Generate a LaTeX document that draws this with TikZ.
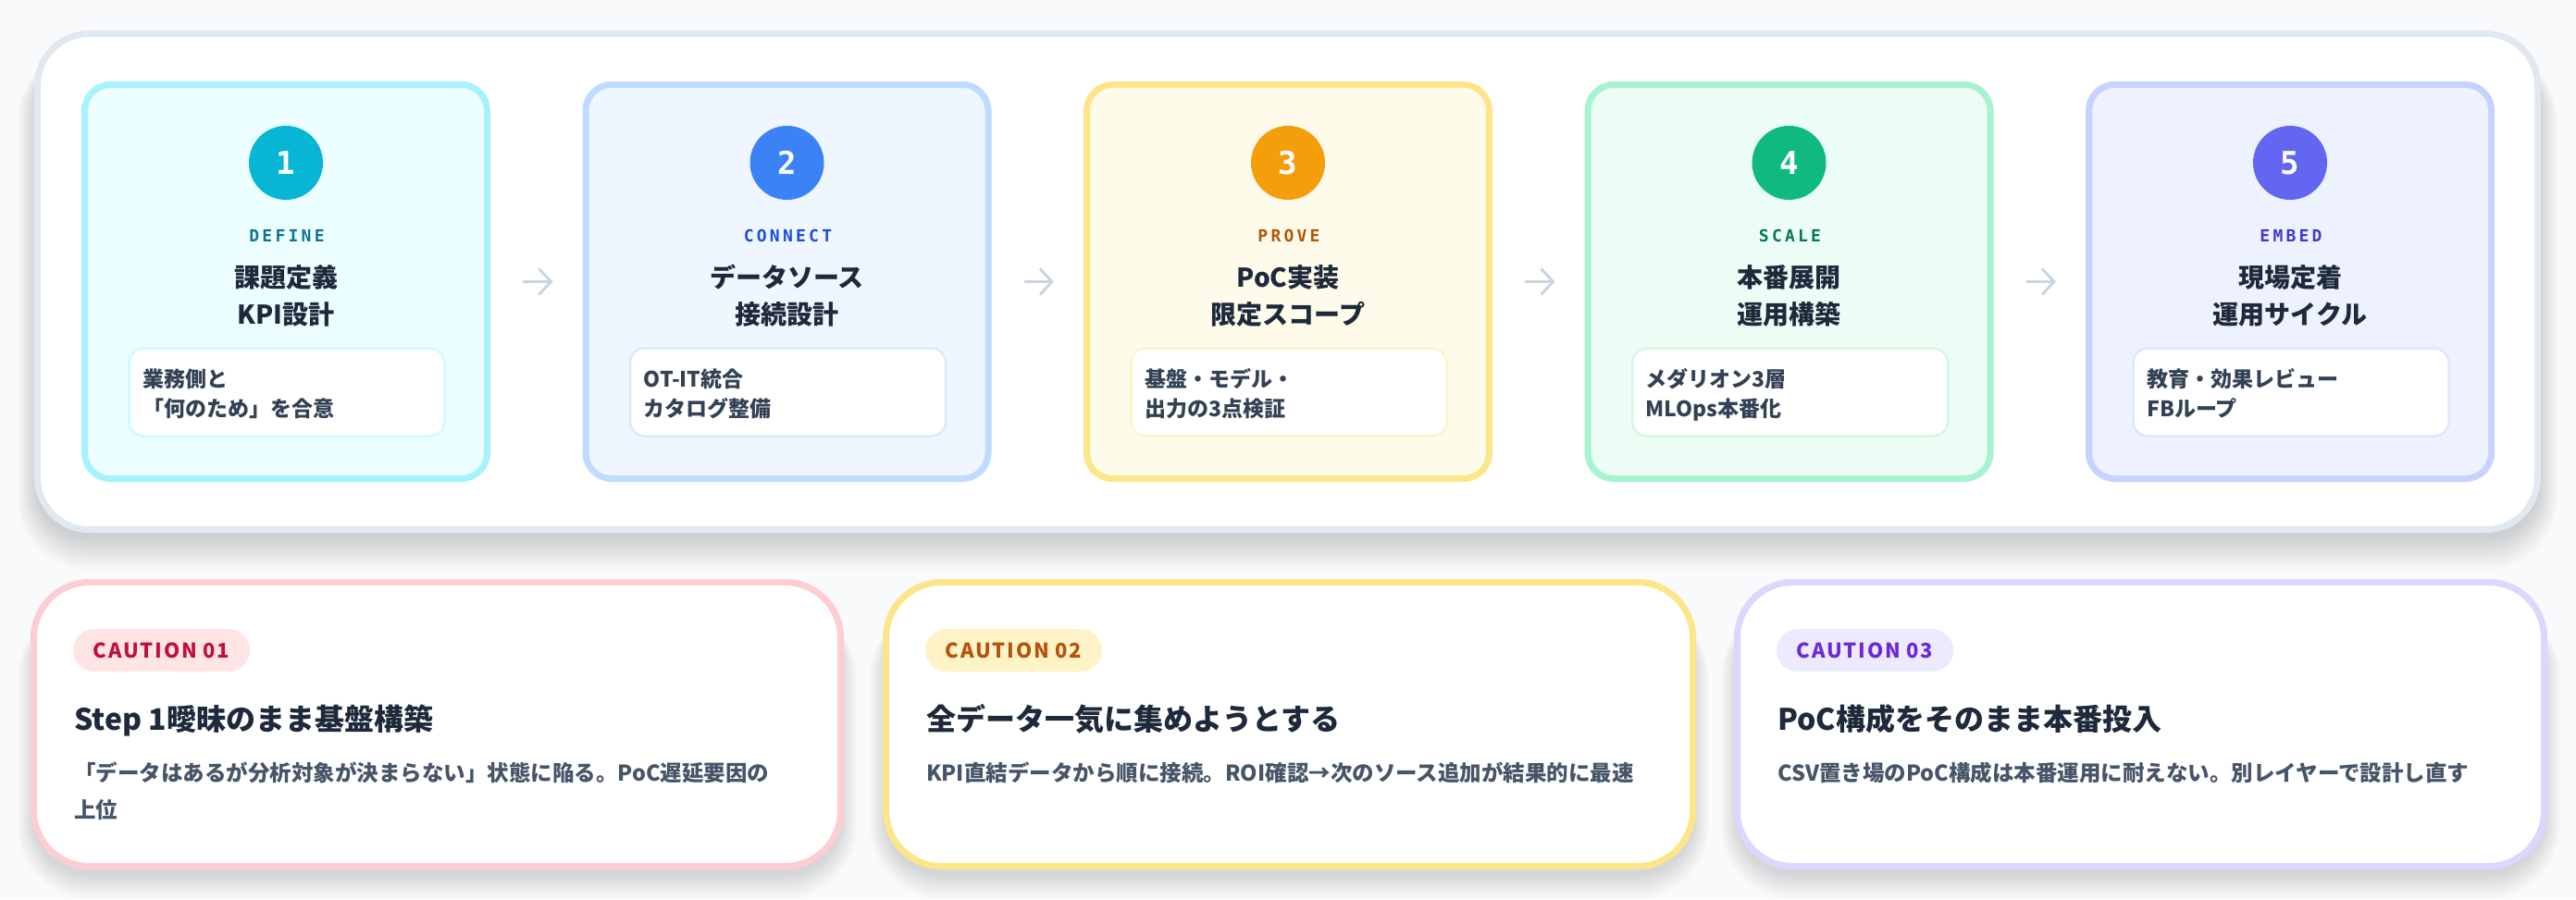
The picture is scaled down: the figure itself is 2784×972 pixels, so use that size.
\documentclass[tikz,border=0pt]{standalone}
\usepackage{fontspec}
\setmainfont{Noto Sans CJK JP}
\newfontfamily\monof{DejaVu Sans Mono}[LetterSpace=18]
\newfontfamily\digf{DejaVu Sans Mono}
\newfontfamily\capf{Noto Sans CJK JP}[LetterSpace=8]
\usetikzlibrary{arrows.meta}
\definecolor{bg}{HTML}{F8FAFC}
\definecolor{panelborder}{HTML}{E2E8F0}
\definecolor{arrowc}{HTML}{CBD5E1}
\definecolor{titlec}{HTML}{1E293B}
\definecolor{bodyc}{HTML}{334155}
\definecolor{cbodyc}{HTML}{475569}
\definecolor{shadowc}{HTML}{0F172A}
\definecolor{cy-b}{HTML}{A5F3FC}\definecolor{cy-f}{HTML}{ECFEFF}\definecolor{cy-c}{HTML}{06B6D4}\definecolor{cy-l}{HTML}{0E7490}\definecolor{cy-i}{HTML}{CFFAFE}
\definecolor{bl-b}{HTML}{BFDBFE}\definecolor{bl-f}{HTML}{EFF6FF}\definecolor{bl-c}{HTML}{3B82F6}\definecolor{bl-l}{HTML}{1D4ED8}\definecolor{bl-i}{HTML}{DBEAFE}
\definecolor{am-b}{HTML}{FDE68A}\definecolor{am-f}{HTML}{FFFBEB}\definecolor{am-c}{HTML}{F59E0B}\definecolor{am-l}{HTML}{B45309}\definecolor{am-i}{HTML}{FEF3C7}
\definecolor{em-b}{HTML}{A7F3D0}\definecolor{em-f}{HTML}{ECFDF5}\definecolor{em-c}{HTML}{10B981}\definecolor{em-l}{HTML}{047857}\definecolor{em-i}{HTML}{D1FAE5}
\definecolor{in-b}{HTML}{C7D2FE}\definecolor{in-f}{HTML}{EEF2FF}\definecolor{in-c}{HTML}{6366F1}\definecolor{in-l}{HTML}{4338CA}\definecolor{in-i}{HTML}{E0E7FF}
\definecolor{ro-b}{HTML}{FECDD3}\definecolor{ro-bg}{HTML}{FFE4E6}\definecolor{ro-t}{HTML}{BE123C}
\definecolor{am-bg}{HTML}{FEF3C7}\definecolor{am-t}{HTML}{B45309}
\definecolor{vi-b}{HTML}{DDD6FE}\definecolor{vi-bg}{HTML}{EDE9FE}\definecolor{vi-t}{HTML}{6D28D9}
\tikzset{
  stepcard/.style={rectangle, rounded corners=28, line width=7, minimum width=435, minimum height=426, inner sep=0},
  numcirc/.style={circle, minimum size=80, inner sep=0, text=white, font=\digf\fontsize{34}{34}\selectfont\bfseries},
  phase/.style={inner sep=0, font=\monof\fontsize{18}{18}\selectfont\bfseries},
  steptitle/.style={inner sep=0, text=titlec, font=\fontsize{28}{28}\selectfont\bfseries},
  innerbox/.style={rectangle, rounded corners=16, line width=2.5, fill=white, minimum width=341, minimum height=95, inner sep=0},
  innertext/.style={inner sep=0, text=bodyc, font=\fontsize{23}{23}\selectfont\bfseries},
  flowarr/.style={draw=arrowc, line width=3, -{Straight Barb[length=13, width=28, line width=3]}},
  cautcard/.style={rectangle, rounded corners=60, line width=7, fill=white, minimum width=872, minimum height=307, inner sep=0},
  badge/.style={rectangle, rounded corners=23, minimum width=191, minimum height=46, inner sep=0, font=\capf\fontsize{22}{22}\selectfont\bfseries},
  cauttitle/.style={inner sep=0, text=titlec, font=\fontsize{32}{32}\selectfont\bfseries},
  cautbody/.style={inner sep=0, text=cbodyc, font=\fontsize{23.5}{23.5}\selectfont\bfseries},
  softshadow/.style={fill=shadowc, opacity=0.011},
}
\begin{document}
\begin{tikzpicture}[x=1pt,y=-1pt]
\useasboundingbox (0,0) rectangle (2784,972);
\fill[bg] (0,0) rectangle (2784,972);
% panel shadow
\foreach \k in {1,...,14}
  \fill[softshadow, rounded corners={(56+\k*1.5)*1pt}] (40-\k*1.5, 60-\k*0.5) rectangle (2743+\k*1.5, 580+\k*2.6);
\node[rectangle, draw=panelborder, line width=7, fill=white, rounded corners=56, minimum width=2702, minimum height=536, inner sep=0] (panel) at (1391.5,304.5) {};
% steps
\foreach \i/\col/\lab/\ta/\tb/\ia/\ib in {
  1/cy/DEFINE/課題定義/KPI設計/業務側と/「何のため」を合意,
  2/bl/CONNECT/データソース/接続設計/OT-IT統合/カタログ整備,
  3/am/PROVE/PoC実装/限定スコープ/基盤・モデル・/出力の3点検証,
  4/em/SCALE/本番展開/運用構築/メダリオン3層/MLOps本番化,
  5/in/EMBED/現場定着/運用サイクル/教育・効果レビュー/FBループ}{
  \pgfmathsetmacro\cx{309+541.5*(\i-1)}
  \node[stepcard, draw=\col-b, fill=\col-f] (card\i) at (\cx,304.5) {};
  \node[numcirc, fill=\col-c] (num\i) at (\cx,176) {\i};
  \node[phase, text=\col-l, anchor=base] (phase\i) at (\cx+1,261) {\lab};
  \node[steptitle, anchor=base] (title\i-a) at (\cx,310.5) {\ta};
  \node[steptitle, anchor=base] (title\i-b) at (\cx,350.5) {\tb};
  \node[innerbox, draw=\col-i] (inner\i) at (\cx+1,424) {};
  \node[innertext, anchor=base west] (in\i-a) at (\cx-155,418) {\ia};
  \node[innertext, anchor=base west] (in\i-b) at (\cx-155,450) {\ib};
}
\foreach \i/\j in {1/2,2/3,3/4,4/5}
  \draw[flowarr] ([xshift=35pt]card\i.east) -- ([xshift=-32pt]card\j.west);
% cautions
\foreach \i/\col/\x/\ttl/\la in {
  1/ro/33/Step 1曖昧のまま基盤構築/「データはあるが分析対象が決まらない」状態に陥る。PoC遅延要因の,
  2/am/954/全データ一気に集めようとする/KPI直結データから順に接続。ROI確認→次のソース追加が結果的に最速,
  3/vi/1874/PoC構成をそのまま本番投入/CSV置き場のPoC構成は本番運用に耐えない。別レイヤーで設計し直す}{
  \foreach \k in {1,...,12}
    \fill[softshadow, rounded corners={(60+\k*1.5)*1pt}] (\x+4-\k*1.5, 660-\k*0.5) rectangle (\x+875+\k*1.5, 944+\k*2.3);
  \node[cautcard, draw=\col-b] (caut\i) at (\x+439.5,783) {};
  \node[badge, fill=\col-bg, text=\col-t] (badge\i) at (\x+141.5,703) {CAUTION 0\i};
  \node[cauttitle, anchor=base west] (ctitle\i) at (\x+47,789) {\ttl};
  \node[cautbody, anchor=base west] (cbody\i) at (\x+47,844) {\la};
}
\node[cautbody, anchor=base west] (cbody1-b) at (80,884) {上位};
\end{tikzpicture}
\end{document}
